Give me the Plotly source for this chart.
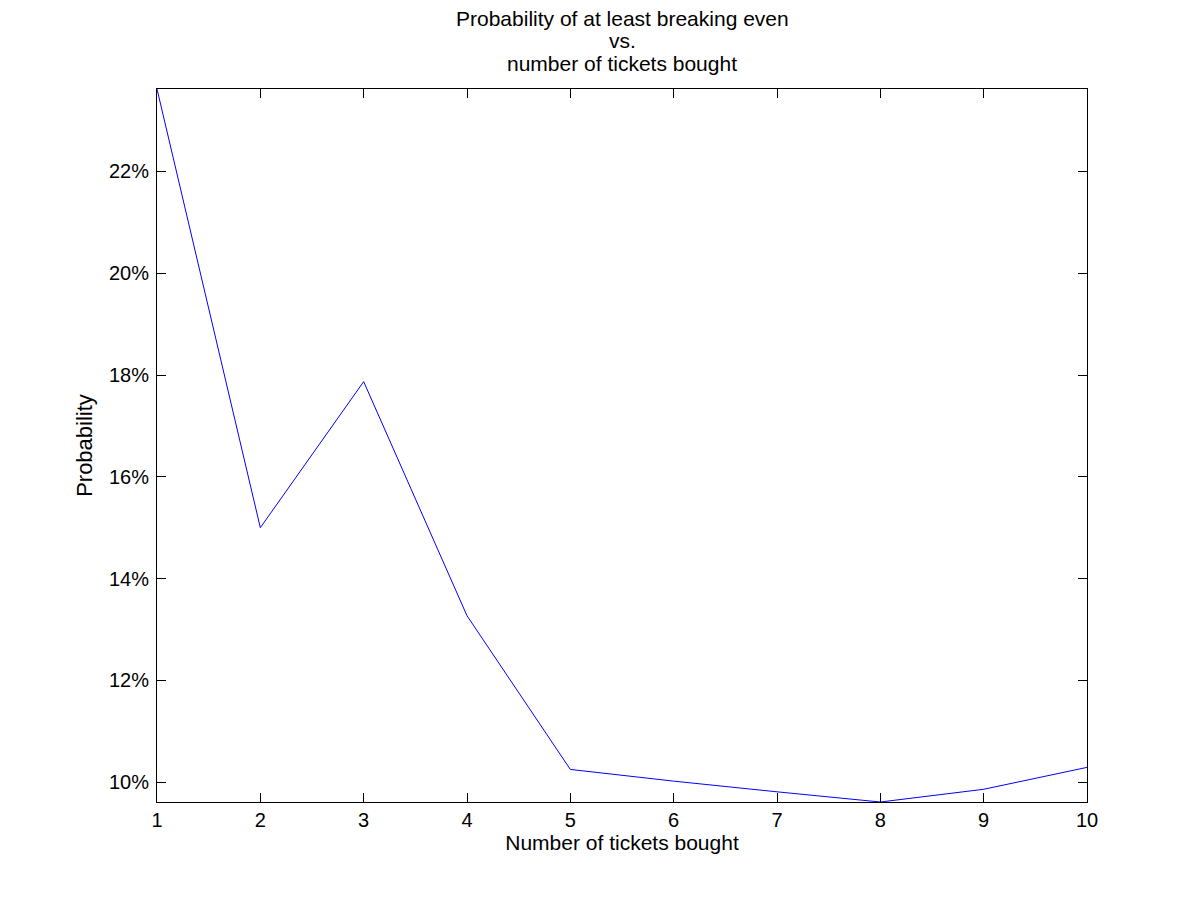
import plotly.graph_objects as go

# number of tickets bought vs probability (%) of at least breaking even
tickets = [1, 2, 3, 4, 5, 6, 7, 8, 9, 10]
prob_pct = [23.62, 15.00, 17.87, 13.27, 10.25, 10.02, 9.81, 9.61, 9.86, 10.29]

y_ticks = [10, 12, 14, 16, 18, 20, 22]
y_tick_text = [f"{v}%" for v in y_ticks]
x_ticks = tickets

title_lines = ["Probability of at least breaking even", "vs.", "number of tickets bought"]

font_family = "Liberation Sans, Arial, sans-serif"

fig = go.Figure(
    go.Scatter(
        x=tickets,
        y=prob_pct,
        mode="lines",
        line=dict(color="#0000ff", width=1),
        hovertemplate="%{x}: %{y:.2f}%<extra></extra>",
    )
)

axis_common = dict(
    showgrid=False,
    zeroline=False,
    showline=True,
    linecolor="black",
    linewidth=1,
    mirror="ticks",
    ticks="inside",
    ticklen=9,
    tickwidth=1,
    tickcolor="black",
    tickfont=dict(family=font_family, size=20, color="black"),
)

fig.update_xaxes(
    range=[min(tickets), max(tickets)],
    tickvals=x_ticks,
    title=dict(text="Number of tickets bought", font=dict(family=font_family, size=21, color="black"), standoff=3),
    **axis_common,
)
fig.update_yaxes(
    range=[min(prob_pct), max(prob_pct)],
    tickvals=y_ticks,
    ticktext=y_tick_text,
    ticklabelstandoff=3,
    title=dict(text="Probability", font=dict(family=font_family, size=22, color="black"), standoff=10),
    **axis_common,
)

# title lines as separate annotations so the line spacing matches
title_shift = [71, 49, 26]
for line, shift in zip(title_lines, title_shift):
    fig.add_annotation(
        text=line,
        xref="paper", yref="paper",
        x=0.5, y=1,
        xanchor="center", yanchor="middle",
        yshift=shift,
        showarrow=False,
        font=dict(family=font_family, size=21, color="black"),
    )

fig.update_layout(
    width=1200,
    height=900,
    showlegend=False,
    plot_bgcolor="white",
    paper_bgcolor="white",
    margin=dict(l=149, r=121, t=81, b=106),
)

fig.write_html("out.html")
